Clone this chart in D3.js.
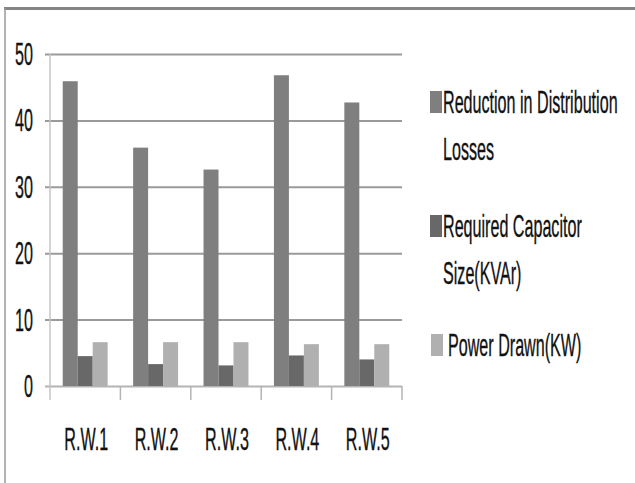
<!DOCTYPE html>
<html>
<head>
<meta charset="utf-8">
<script src="https://cdn.jsdelivr.net/npm/d3@7"></script>
<style>
  html, body { margin: 0; padding: 0; background: #fff; }
  svg { display: block; }
  text { font-family: "Liberation Sans", Arial, sans-serif; fill: #111; stroke: #111; stroke-width: 0.35; }
</style>
</head>
<body>
<svg id="chart" width="635" height="483"></svg>
<script>
// Categories and series values
const categories = ["R.W.1", "R.W.2", "R.W.3", "R.W.4", "R.W.5"];
const seriesNames = [
  ["Reduction in Distribution", "Losses"],
  ["Required Capacitor", "Size(KVAr)"],
  ["Power Drawn(KW)"]
];
const reductionLosses = [45.9, 35.9, 32.6, 46.8, 42.7];
const capacitorSize = [4.5, 3.3, 3.1, 4.6, 4.0];
const powerDrawn = [6.6, 6.6, 6.6, 6.3, 6.3];
const yTicks = [0, 10, 20, 30, 40, 50];
const seriesColors = ["#7f7f7f", "#686868", "#b0b0b0"];

const series = [reductionLosses, capacitorSize, powerDrawn];

const svg = d3.select("#chart");
const FONT = 31, SX = 0.52;   // condensed text: large size squeezed horizontally

// outer frame
svg.append("line").attr("x1", 4).attr("x2", 635).attr("y1", 8.5).attr("y2", 8.5)
  .attr("stroke", "#858585").attr("stroke-width", 3);
svg.append("line").attr("x1", 5).attr("x2", 5).attr("y1", 8).attr("y2", 483)
  .attr("stroke", "#9a9a9a").attr("stroke-width", 1.5);

const plot = { left: 50, right: 402, top: 54, bottom: 386 };

const x = d3.scaleBand().domain(categories).range([plot.left, plot.right]).paddingInner(0).paddingOuter(0);
const y = d3.scaleLinear().domain([0, 50]).range([plot.bottom, plot.top]);
const xInner = d3.scaleBand().domain(d3.range(series.length))
  .range([0, x.bandwidth()]).paddingOuter(0.85).paddingInner(0);

// horizontal gridlines with left tick stubs
const yAxis = d3.axisLeft(y).tickValues(yTicks).tickSize(0).tickFormat("");
const gy = svg.append("g").attr("transform", `translate(${plot.left - 5},0)`).call(yAxis);
gy.select(".domain").remove();
gy.selectAll(".tick line")
  .attr("x1", 0).attr("x2", plot.right - plot.left + 5)
  .attr("stroke", d => d === 0 ? "#b4b4b4" : "#9a9a9a").attr("stroke-width", 2);

// y tick labels
svg.append("g").selectAll("text").data(yTicks).join("text")
  .attr("transform", d => `translate(33,${y(d) + 11}) scale(${SX},1)`)
  .attr("text-anchor", "end").attr("font-size", FONT)
  .text(d => d);

// vertical axis line
svg.append("line").attr("x1", plot.left).attr("x2", plot.left)
  .attr("y1", plot.top).attr("y2", plot.bottom + 14)
  .attr("stroke", "#c4c4c4").attr("stroke-width", 1.5);

// category separators below the baseline
const seps = categories.map(c => x(c) + x.bandwidth());
svg.append("g").selectAll("line").data(seps).join("line")
  .attr("x1", d => d).attr("x2", d => d)
  .attr("y1", plot.bottom).attr("y2", plot.bottom + 14)
  .attr("stroke", "#b4b4b4").attr("stroke-width", 1.5);

// bars
const groups = svg.append("g").selectAll("g").data(categories).join("g")
  .attr("transform", c => `translate(${x(c)},0)`);
groups.selectAll("rect")
  .data((c, i) => series.map((s, k) => ({ k, v: s[i] })))
  .join("rect")
  .attr("x", d => xInner(d.k))
  .attr("width", xInner.bandwidth())
  .attr("y", d => y(d.v))
  .attr("height", d => y(0) - y(d.v))
  .attr("fill", d => seriesColors[d.k]);

// category labels
svg.append("g").selectAll("text").data(categories).join("text")
  .attr("transform", c => `translate(${x(c) + x.bandwidth() / 2 + 1},450) scale(${SX},1)`)
  .attr("text-anchor", "middle").attr("font-size", FONT)
  .text(c => c);

// legend
const legendRows = [113, 237, 356];
const legend = svg.append("g");
seriesNames.forEach((lines, k) => {
  const base = legendRows[k];
  legend.append("rect").attr("x", k === 2 ? 431 : 430).attr("y", base - 22)
    .attr("width", 12).attr("height", 22).attr("fill", seriesColors[k]);
  lines.forEach((t, j) => {
    legend.append("text")
      .attr("transform", `translate(${k === 2 ? 448 : 443},${base + j * 47}) scale(${SX},1)`)
      .attr("font-size", FONT)
      .text(t);
  });
});
</script>
</body>
</html>
